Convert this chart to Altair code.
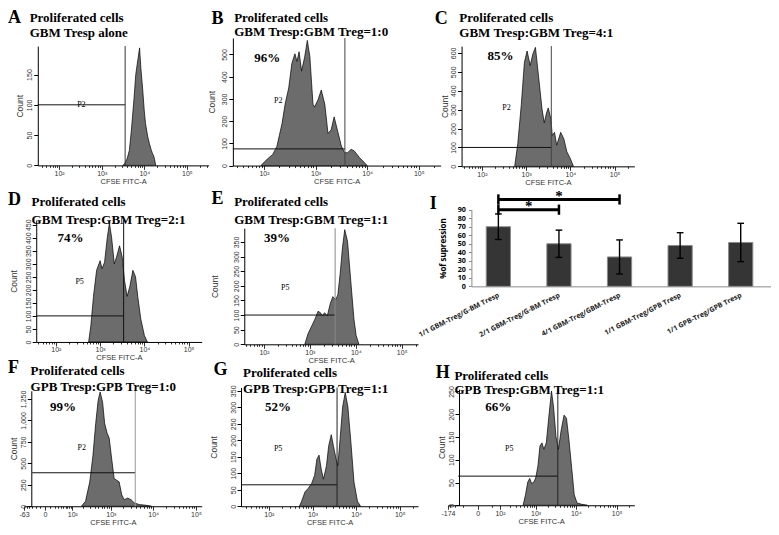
import math
import altair as alt
import pandas as pd

# ---------------- values ----------------
A_fitc = [3160, 3550, 4000, 4470, 5010, 5750, 6310, 7080, 7760, 8320, 9120, 10000, 10700, 12000, 13200, 14500, 15500, 16600, 17400, 18600]
A_count = [0, 4, 12, 25, 60, 111, 150, 175, 194, 160, 128, 90, 69, 48, 36, 26, 20, 16, 10, 0]

B_fitc = [87, 115, 148, 178, 224, 257, 302, 347, 398, 437, 479, 537, 617, 692, 776, 891, 955, 1120, 1290, 1510,
          1740, 2000, 2290, 2690, 3160, 3630, 4170, 4900, 5620, 7080, 8710, 10000]
B_count = [0, 28, 50, 86, 189, 276, 349, 459, 503, 468, 512, 425, 490, 563, 490, 276, 263, 297, 340, 276,
           145, 160, 219, 153, 88, 58, 58, 73, 66, 36, 15, 0]

C_fitc = [550, 646, 776, 912, 1050, 1230, 1410, 1620, 1910, 2290, 2570, 2880, 3160, 3630, 3890, 4370, 4900, 6030, 7080, 8320, 10000, 11700]
C_count = [0, 120, 326, 550, 610, 533, 593, 629, 473, 300, 230, 282, 309, 249, 163, 180, 112, 180, 146, 77, 40, 0]

D_fitc = [550, 617, 708, 832, 1000, 1100, 1260, 1450, 1620, 1820, 2090, 2340, 2750, 3160, 3550, 4070, 4680, 5500, 6310, 7080, 8320, 10000, 11700]
D_count = [0, 62, 175, 275, 312, 281, 306, 400, 456, 400, 300, 325, 369, 325, 237, 175, 212, 275, 250, 175, 87, 25, 0]

E_fitc = [776, 912, 1100, 1290, 1510, 1700, 1860, 2090, 2400, 2750, 3160, 3630, 4070, 4570, 5130, 5750, 6610, 7760, 9120, 10200, 11700]
E_count = [0, 36, 63, 86, 113, 108, 97, 108, 97, 136, 163, 152, 169, 241, 330, 392, 352, 219, 86, 30, 0]

F_fitc = [182, 234, 302, 363, 427, 490, 550, 631, 708, 813, 912, 1050, 1200, 1380, 1580, 1820, 2090, 2510, 3020, 3630, 4790, 6920, 9120]
F_count = [0, 57, 284, 587, 966, 1231, 1330, 1212, 966, 852, 795, 549, 322, 303, 284, 133, 76, 95, 76, 38, 19, 11, 0]

G_fitc = [501, 562, 676, 794, 955, 1120, 1260, 1410, 1580, 1780, 2090, 2340, 2690, 3020, 3470, 3800, 4270, 4900, 5620, 6460, 7590, 8910, 10700, 12600]
G_count = [0, 15, 44, 54, 69, 94, 143, 155, 113, 82, 123, 182, 217, 182, 143, 123, 202, 301, 345, 301, 192, 74, 15, 0]

H_fitc = [475, 550, 631, 708, 794, 912, 1020, 1150, 1290, 1450, 1620, 1860, 2190, 2510, 2820, 3240, 3720, 4370, 5130, 5890, 6760, 7940, 9120, 10700, 14100, 19100]
H_count = [0, 23, 51, 59, 48, 51, 62, 87, 130, 137, 123, 137, 201, 251, 216, 151, 123, 166, 198, 191, 144, 80, 23, 5, 2, 0]

hist = {"A": (A_fitc, A_count), "B": (B_fitc, B_count), "C": (C_fitc, C_count), "D": (D_fitc, D_count),
        "E": (E_fitc, E_count), "F": (F_fitc, F_count), "G": (G_fitc, G_count), "H": (H_fitc, H_count)}

subtitles = {"A": "GBM Tresp alone", "B": "GBM Tresp:GBM Treg=1:0", "C": "GBM Tresp:GBM Treg=4:1",
             "D": "GBM Tresp:GBM Treg=2:1", "E": "GBM Tresp:GBM Treg=1:1", "F": "GPB Tresp:GPB Treg=1:0",
             "G": "GPB Tresp:GPB Treg=1:1", "H": "GPB Tresp:GBM Treg=1:1"}

# gate: (upper FITC bound, count level of the marker line)
gates = {"A": (3550, 100), "B": (3700, 75), "C": (3700, 100), "D": (3400, 100), "E": (3550, 100),
         "F": (3800, 390), "G": (3650, 65), "H": (3600, 64)}
gate_start = {"F": -30, "H": -80}
percents = {"B": ("96%", 116, 486), "C": ("85%", 264, 584), "D": ("74%", 215, 398), "E": ("39%", 193, 362),
            "F": ("99%", 49, 1156), "G": ("52%", 161, 301), "H": ("66%", 88, 216)}
gate_names = {"A": ("P2", 333, 99), "B": ("P2", 190, 289), "C": ("P2", 360, 311), "D": ("P5", 344, 231),
              "E": ("P5", 290, 191), "F": ("P2", 186, 682), "G": ("P5", 163, 173), "H": ("P5", 195, 123)}
y_ticks = {"A": [0, 50, 100, 150], "B": [0, 100, 200, 300, 400, 500], "C": [0, 100, 200, 300, 400, 500, 600],
           "D": [0, 50, 100, 150, 200, 250, 300, 350, 400, 450], "E": [0, 50, 100, 150, 200, 250, 300, 350],
           "F": [0, 250, 500, 750, 1000, 1250], "G": [0, 50, 100, 150, 200, 250, 300, 350],
           "H": [0, 50, 100, 150, 200, 250]}
y_max = {"A": 197, "B": 574, "C": 636, "D": 468, "E": 397, "F": 1345, "G": 360, "H": 255}

I_labels = ["1/1 GBM-Treg/G-BM Tresp", "2/1 GBM-Treg/G-BM Tresp", "4/1 GBM-Treg/GBM-Tresp",
            "1/1 GBM-Treg/GPB Tresp", "1/1 GPB-Treg/GPB Tresp"]
I_values = [70, 50, 34.5, 48, 51.5]
I_errors = [15, 16, 20, 15, 22.5]
I_ticks = [0, 10, 20, 30, 40, 50, 60, 70, 80, 90]
brackets = [(0, 1, 90, "*"), (0, 2, 102, "*")]

# ---------------- layout (reference pixel coords -> view coords) ----------------
SX = 763 / 776
SY = 519 / 532
W, H = 763, 519


def X(r):
    return (r - 3) * SX


def Y(r):
    return (r - 2) * SY


SANS = "Liberation Sans"
SERIF = "Liberation Serif"
HIST = "#6c6c6c"
ONE = pd.DataFrame({"k": [0]})

geo = {
    "A": dict(kind="log", L=33.3, R=207, p2=55, d=43.3, B=162.3, T=40, tp=1.5, vc="#333"),
    "B": dict(kind="log", L=231.7, R=443, p2=263.3, d=52.5, B=162.5, T=31.7, tp=4, vc="#444"),
    "C": dict(kind="log", L=464.3, R=640, p2=485, d=45, B=163.3, T=40, tp=0.5, vc="#444"),
    "D": dict(kind="log", L=31.7, R=200, p2=51.7, d=45, B=343.3, T=218.3, tp=5.5, vc="#111"),
    "E": dict(kind="log", L=243.3, R=420, p2=263.3, d=46.7, B=345.7, T=226.7, tp=13, vc="#888"),
    "F": dict(kind="symlog", C=30, xmin=-63, L=19.3, z=40.7, R=200, axL=26.7, B=511.7, T=393.3, tp=0.5,
              vc="#999", minors=[-50, -40, -30, -20, -10, 10, 20, 30, 40, 50, 60, 70, 80, 90]),
    "G": dict(kind="log", L=240, R=420, p2=268.3, d=44.4, B=511.7, T=390, tp=11, vc="#222"),
    "H": dict(kind="symlog", C=40, xmin=-174, L=450.4, z=480.7, R=640, axL=461.7, B=510.7, T=391.7, tp=0.5,
              vc="#222", minors=[-150, -100, -50, 50]),
}

title_pos = {"A": (3, 16, 25, 15, 31), "B": (210, 17, 233, 15, 30), "C": (437, 17, 462, 15, 31),
             "D": (3, 203, 27, 204, 222), "E": (210, 202, 233, 204, 222), "F": (3, 375, 26, 377, 394),
             "G": (212, 377, 242, 379, 396), "H": (438, 380, 457, 382, 397)}

SUP = {100: "10²", 1000: "10³", 10000: "10⁴", 100000: "10⁵"}


def label_expr(mapping):
    parts = [f"datum.value == {v} ? '{s}'" for v, s in mapping.items()]
    return " : ".join(parts) + " : ''"


def flow_panel(key):
    g = geo[key]
    fitc, count = hist[key]
    if g["kind"] == "log":
        lo = 10 ** (2 + (g["L"] - g["p2"]) / g["d"])
        hi = 10 ** (2 + (g["R"] - g["p2"]) / g["d"])
        xs = alt.Scale(type="log", domain=[lo, hi], range=[X(g["L"]), X(g["R"])], nice=False)
        majors = [100, 1000, 10000, 100000]
        minors = [k * 10 ** e for e in range(1, 6) for k in range(2, 10)]
        labels = dict(SUP)
        axL = g["L"]
        x0 = lo
    else:
        C, z, xmin = g["C"], g["z"], g["xmin"]
        b = (z - g["L"]) / math.log(1 + abs(xmin) / C)
        hi = C * (math.exp((g["R"] - z) / b) - 1)
        lo = xmin
        xs = alt.Scale(type="symlog", constant=C, domain=[lo, hi], range=[X(g["L"]), X(g["R"])], nice=False)
        majors = [xmin, 0, 100, 1000, 10000, 100000]
        minors = g["minors"] + [k * 10 ** e for e in range(2, 6) for k in range(2, 10)]
        labels = {xmin: str(xmin), 0: "0"}
        labels.update(SUP)
        axL = g["axL"]
        x0 = gate_start[key]
    ticks = sorted(v for v in set(majors + minors) if lo <= v <= hi)
    ymax = y_max[key]
    ys = alt.Scale(domain=[0, ymax], range=[Y(g["B"]), Y(g["T"])], nice=False)

    xaxis = alt.Axis(orient="bottom", offset=Y(g["B"]) - H, values=ticks, labelExpr=label_expr(labels),
                     tickSize={"condition": {"test": f"indexof({majors}, datum.value) >= 0", "value": 4}, "value": 2},
                     tickColor="#000", domainColor="#000", domainWidth=1, tickWidth=0.8,
                     labelFont=SANS, labelFontSize=7, labelColor="#333", labelPadding=0, labelOverlap=False,
                     labelFlush=False, grid=False, title="CFSE FITC-A", titleFont=SANS, titleFontSize=7.5,
                     titleFontWeight="normal", titleColor="#333", titlePadding=1, minExtent=11, maxExtent=11)
    yaxis = alt.Axis(orient="left", offset=-X(axL), values=y_ticks[key],
                     labelExpr="format(datum.value, ',d')", labelAngle=270,
                     labelAlign="center", labelBaseline="bottom", tickSize=4, tickColor="#000",
                     domainColor="#000", domainWidth=1, labelPadding=1, labelFont=SANS, labelFontSize=7,
                     labelColor="#333", labelOverlap=False, labelFlush=False, grid=False, title="Count",
                     titleFont=SANS, titleFontSize=8.5, titleFontWeight="normal", titleColor="#333",
                     titlePadding=g["tp"], minExtent=12, maxExtent=12)

    def xe(f):
        return alt.X(f, type="quantitative", scale=xs, axis=xaxis)

    def ye(f):
        return alt.Y(f, type="quantitative", scale=ys, axis=yaxis)

    df = pd.DataFrame({"fitc": fitc, "count": count})
    area = alt.Chart(df).mark_area(color=HIST, stroke="#000", strokeWidth=0.7, strokeJoin="round").encode(
        x=xe("fitc"), y=ye("count"))
    gx, gy = gates[key]
    gdf = pd.DataFrame({"x0": [x0], "x1": [gx], "gy": [gy], "y0": [0], "y1": [ymax]})
    hline = alt.Chart(gdf).mark_rule(color="#111", strokeWidth=1).encode(x=xe("x0"), x2="x1", y=ye("gy"))
    vline = alt.Chart(gdf).mark_rule(color=g["vc"], strokeWidth=1).encode(x=xe("x1"), y=ye("y0"), y2="y1")
    nm, nx, ny = gate_names[key]
    ndf = pd.DataFrame({"t": [nm], "x": [nx], "y": [ny]})
    ntext = alt.Chart(ndf).mark_text(font=SERIF, fontSize=8, color="#000", baseline="middle").encode(
        x=xe("x"), y=ye("y"), text="t:N")
    layers = [area, hline, vline, ntext]
    if key in percents:
        pt, px, py = percents[key]
        pdf = pd.DataFrame({"t": [pt], "x": [px], "y": [py]})
        layers.append(alt.Chart(pdf).mark_text(font=SERIF, fontSize=13, fontWeight="bold", color="#000",
                                               baseline="middle").encode(x=xe("x"), y=ye("y"), text="t:N"))
    return alt.layer(*layers)


def bar_panel():
    L, R, B0, T90 = 474.3, 779, 286.3, 207.7
    xs = alt.Scale(domain=[-0.445, 4.5], range=[X(L), X(R)], nice=False, zero=False)
    ys = alt.Scale(domain=[0, 90], range=[Y(B0), Y(T90)], nice=False)
    lab_expr = "[" + ", ".join(f"'{s}'" for s in I_labels) + "][datum.value]"
    xaxis = alt.Axis(orient="bottom", offset=Y(B0) - H, values=list(range(len(I_labels))), labelExpr=lab_expr,
                     labelAngle=333, labelAlign="right", labelBaseline="middle", ticks=False, tickSize=0,
                     domainColor="#8a8a8a", domainWidth=1, labelPadding=8, labelFont="Open Sans",
                     labelFontWeight="bold", labelFontSize=7, labelColor="#222", labelOverlap=False,
                     labelFlush=False, grid=False, title="")
    yaxis = alt.Axis(orient="left", offset=-X(L), values=I_ticks, tickSize=3, tickColor="#8a8a8a",
                     domainColor="#8a8a8a", domainWidth=1, labelPadding=3, labelFont="Open Sans",
                     labelFontWeight="bold", labelFontSize=7.2, labelColor="#000", labelOverlap=False,
                     labelFlush=False, grid=False, title="%of supression", titleFont="Open Sans",
                     titleFontSize=8, titleFontWeight="bold", titleColor="#000", titlePadding=8,
                     minExtent=16, maxExtent=16)

    def xe(f):
        return alt.X(f, type="quantitative", scale=xs, axis=xaxis)

    def ye(f):
        return alt.Y(f, type="quantitative", scale=ys, axis=yaxis)

    n = len(I_values)
    bdf = pd.DataFrame({"i": list(range(n)), "v": I_values, "e": I_errors})
    bdf["x0"] = bdf["i"] - 0.2
    bdf["x1"] = bdf["i"] + 0.2
    bdf["lo"] = bdf["v"] - bdf["e"]
    bdf["hi"] = bdf["v"] + bdf["e"]
    bdf["zero"] = 0
    bars = alt.Chart(bdf).mark_rect(fill="#353535", stroke="#8c8c8c", strokeWidth=1).encode(
        x=xe("x0"), x2="x1", y=ye("v"), y2="zero")
    err = alt.Chart(bdf).mark_rule(color="#000", strokeWidth=1.4).encode(x=xe("i"), y=ye("lo"), y2="hi")
    cap_rows = []
    for i, v, e in zip(range(n), I_values, I_errors):
        for yy in (v - e, v + e):
            cap_rows.append({"c0": i - 0.055, "c1": i + 0.055, "cy": yy})
    cdf = pd.DataFrame(cap_rows)
    caps = alt.Chart(cdf).mark_rule(color="#000", strokeWidth=1.4).encode(x=xe("c0"), x2="c1", y=ye("cy"))

    kdf = pd.DataFrame([{"a": a, "b": b, "lvl": lvl, "s": s, "m": (a + b) / 2, "l0": lvl - 6, "l1": lvl + 6}
                        for a, b, lvl, s in brackets])
    bh = alt.Chart(kdf).mark_rule(color="#000", strokeWidth=3).encode(x=xe("a"), x2="b", y=ye("lvl"))
    ba = alt.Chart(kdf).mark_rule(color="#000", strokeWidth=2.5).encode(x=xe("a"), y=ye("l0"), y2="l1")
    bb = alt.Chart(kdf).mark_rule(color="#000", strokeWidth=2.5).encode(x=xe("b"), y=ye("l0"), y2="l1")
    st = alt.Chart(kdf).mark_text(font=SERIF, fontSize=15, fontWeight="bold", color="#000",
                                  baseline="alphabetic", dy=1.5).encode(x=xe("m"), y=ye("lvl"), text="s:N")
    return alt.layer(bars, err, caps, bh, ba, bb, st)


def txt(s, x, y, size, font=SERIF, weight="bold"):
    return alt.Chart(ONE).mark_text(text=s, font=font, fontSize=size, fontWeight=weight, align="left",
                                    baseline="alphabetic", color="#000").encode(
        x=alt.value(X(x)), y=alt.value(Y(y)))


panels = [flow_panel(k) for k in "ABCDEFGH"] + [bar_panel()]

titles = []
for k in "ABCDEFGH":
    lx, ly, tx, t1, t2 = title_pos[k]
    titles.append(txt(k, lx, ly, 18))
    titles.append(txt("Proliferated cells", tx, t1, 13))
    titles.append(txt(subtitles[k], tx, t2, 13))
titles.append(txt("I", 432, 207, 18))

chart = alt.layer(*panels, *titles).resolve_scale(x="independent", y="independent").properties(
    width=W, height=H, padding=0).configure_view(strokeWidth=0)

chart.save("out.html", embed_options={"renderer": "svg", "actions": False})
